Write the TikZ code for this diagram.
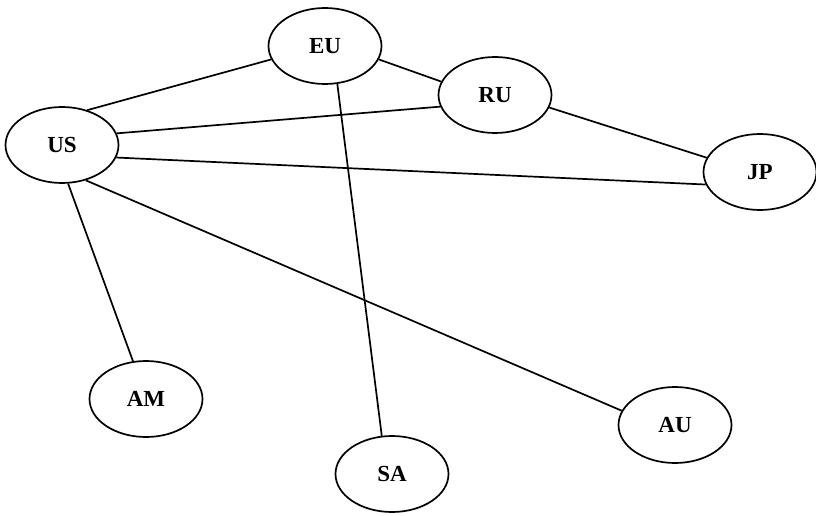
\documentclass[tikz,border=0pt]{standalone}
\usepackage{fontspec}
\setmainfont{Liberation Serif}
\usetikzlibrary{shapes.geometric}
\begin{document}
\begin{tikzpicture}[x=1pt,y=-1pt,
  country/.style={ellipse,draw,line width=1.7pt,inner sep=0pt,minimum width=113pt,minimum height=76pt,font=\fontsize{23}{25}\selectfont\bfseries},
  link/.style={line width=1.7pt}]
\useasboundingbox (0,0) rectangle (816,516);
\node[country] (EU) at (325,46) {EU};
\node[country] (RU) at (495,95) {RU};
\node[country] (US) at (62,145) {US};
\node[country] (JP) at (760,172) {JP};
\node[country] (AM) at (146,399) {AM};
\node[country] (SA) at (392,474) {SA};
\node[country] (AU) at (675,425) {AU};
\draw[link] (US.54) -- (EU.194);
\draw[link] (EU.-14) -- (RU.166);
\draw[link] (US.12) -- (RU.192);
\draw[link] (US.-13) -- (JP.193);
\draw[link] (RU.-13) -- (JP.165);
\draw[link] (US.-81) -- (AM.109);
\draw[link] (US.-56) -- (AU.165);
\draw[link] (EU.-72) -- (SA.105);
\end{tikzpicture}
\end{document}
